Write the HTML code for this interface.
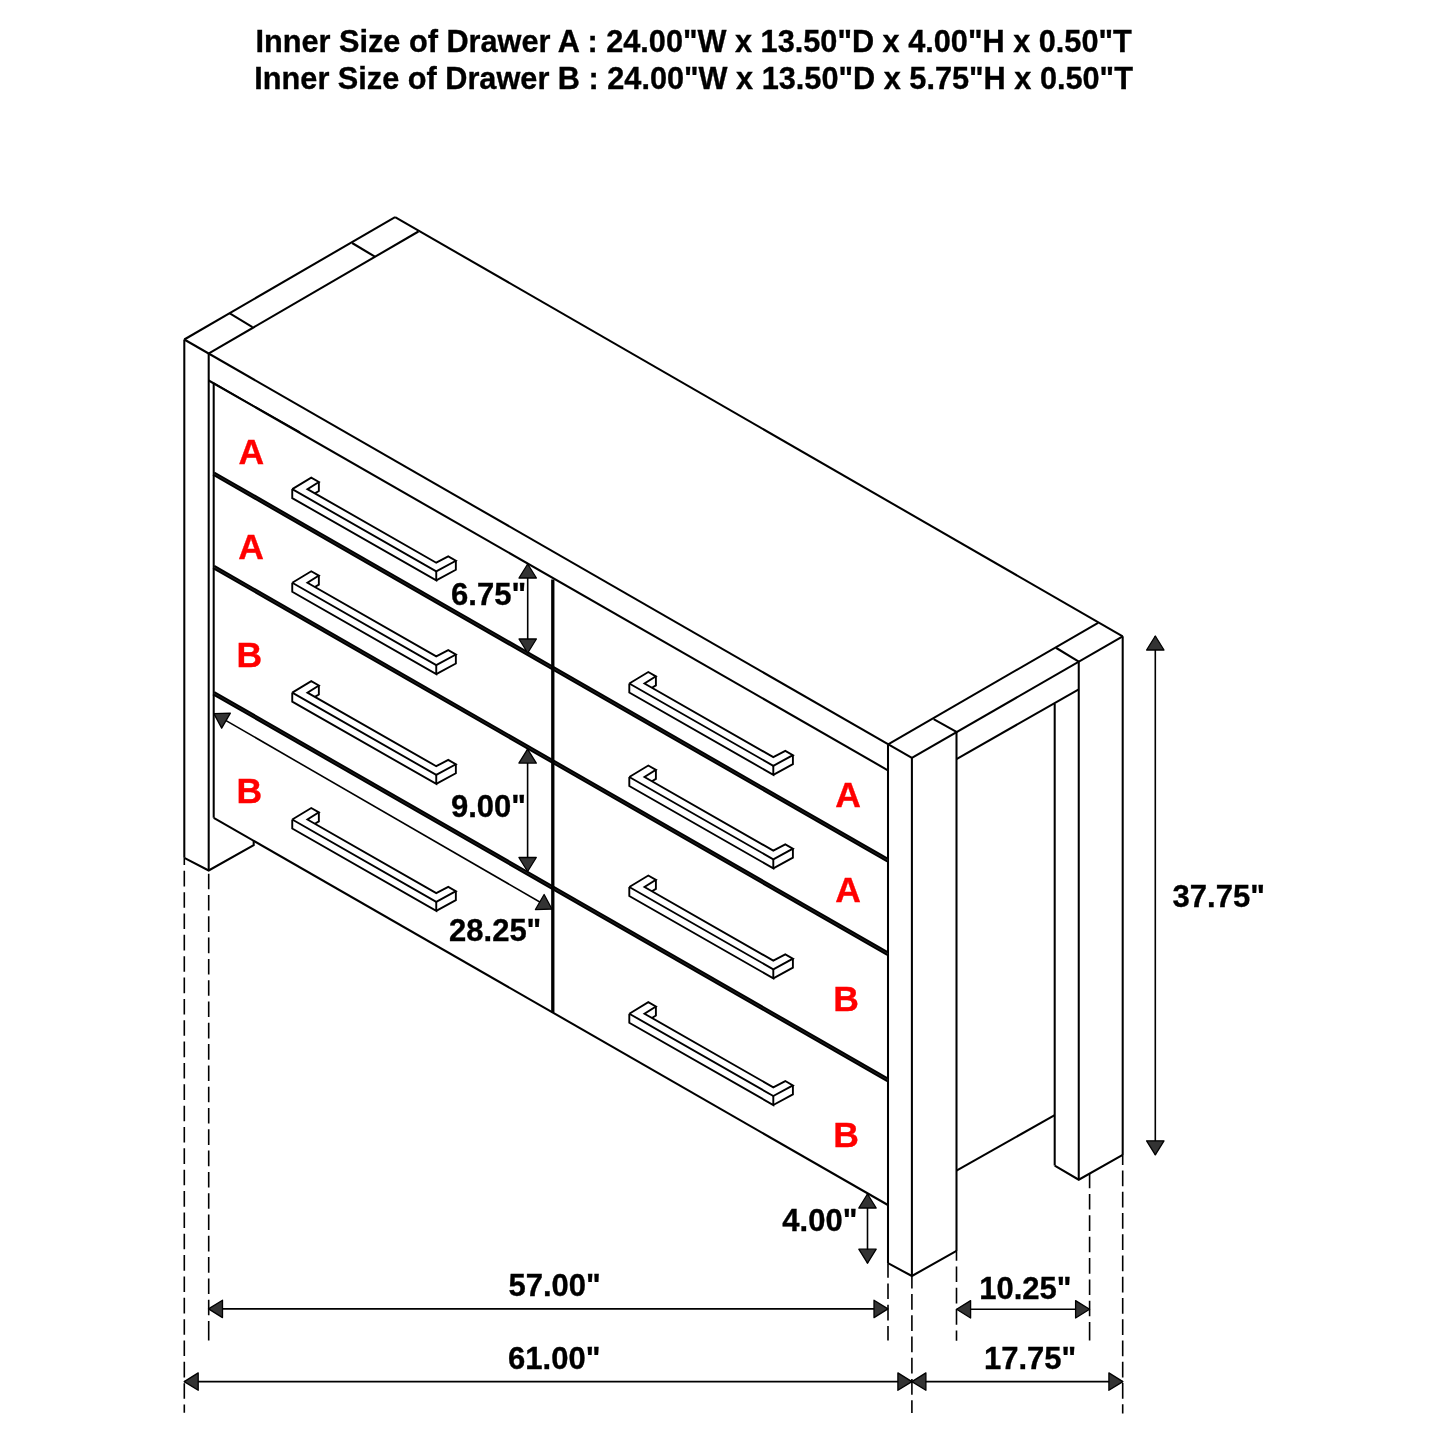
<!DOCTYPE html>
<html><head><meta charset="utf-8"><title>Dresser Dimensions</title>
<style>
html,body{margin:0;padding:0;background:#fff;}
body{width:1445px;height:1445px;overflow:hidden;}
svg{display:block;will-change:transform;}
text{font-family:"Liberation Sans", sans-serif;font-weight:bold;stroke-width:0.35px;}
</style></head>
<body>
<svg width="1445" height="1445" viewBox="0 0 1445 1445">
<rect width="1445" height="1445" fill="#fff"/>
<g stroke="#000" stroke-linecap="butt" fill="none">
<line x1="184.3" y1="339.5" x2="911.9" y2="757.9" stroke-width="2.05"/>
<line x1="184.3" y1="339.5" x2="395.1" y2="217.1" stroke-width="2.05"/>
<line x1="208.9" y1="353.4" x2="418.45" y2="231.5" stroke-width="2.05"/>
<line x1="229.8" y1="313.4" x2="252.5" y2="327.1" stroke-width="2.05"/>
<line x1="352.1" y1="243" x2="374.9" y2="256.7" stroke-width="2.05"/>
<line x1="395.1" y1="217.1" x2="1122.7" y2="636.3" stroke-width="2.05"/>
<line x1="888.1" y1="744.4" x2="1098.1" y2="622.8" stroke-width="2.05"/>
<line x1="911.9" y1="757.9" x2="1122.7" y2="636.3" stroke-width="2.05"/>
<line x1="933.6" y1="719.2" x2="956.5" y2="731.8" stroke-width="2.05"/>
<line x1="1055.9" y1="647.75" x2="1078.75" y2="661.6" stroke-width="2.05"/>
<line x1="184.3" y1="339.5" x2="184.3" y2="857.8" stroke-width="2.05"/>
<line x1="208.7" y1="353.4" x2="208.7" y2="870.5" stroke-width="2.05"/>
<path d="M184.3 857.8 L208.7 870.5 L253.7 845.2 L253.7 840.5" stroke-width="2.05" fill="none"/>
<line x1="888" y1="744.4" x2="888" y2="1263.2" stroke-width="2.05"/>
<line x1="911.9" y1="757.9" x2="911.9" y2="1276" stroke-width="2.05"/>
<line x1="956.5" y1="731.8" x2="956.5" y2="1250.9" stroke-width="2.05"/>
<path d="M888 1263.2 L911.9 1276 L956.5 1250.9" stroke-width="2.05" fill="none"/>
<line x1="956.5" y1="759.2" x2="1078.75" y2="689.3" stroke-width="2.05"/>
<line x1="956.5" y1="1170.6" x2="1054.7" y2="1115.2" stroke-width="2.05"/>
<line x1="1054.7" y1="703.8" x2="1054.7" y2="1165.6" stroke-width="2.05"/>
<line x1="1078.75" y1="661.6" x2="1078.75" y2="1179.7" stroke-width="2.05"/>
<line x1="1122.7" y1="636.3" x2="1122.7" y2="1154.9" stroke-width="2.05"/>
<path d="M1054.7 1165.6 L1078.75 1179.7 L1122.7 1154.9" stroke-width="2.05" fill="none"/>
<line x1="208.7" y1="380.5" x2="887.9" y2="770.3" stroke-width="2.05"/>
<line x1="213.7" y1="383.3" x2="300" y2="432.3" stroke-width="1.6"/>
<line x1="213.7" y1="383.4" x2="213.7" y2="817.8" stroke-width="2.05"/>
<line x1="213.7" y1="473.6" x2="887.9" y2="860.3" stroke-width="4.5"/>
<line x1="213.7" y1="473.6" x2="887.9" y2="860.3" stroke-width="0.6" stroke="#3a3a3a"/>
<line x1="213.7" y1="567" x2="887.9" y2="953.8" stroke-width="4.5"/>
<line x1="213.7" y1="567" x2="887.9" y2="953.8" stroke-width="0.6" stroke="#3a3a3a"/>
<line x1="213.7" y1="693.2" x2="887.9" y2="1080" stroke-width="4.5"/>
<line x1="213.7" y1="693.2" x2="887.9" y2="1080" stroke-width="0.6" stroke="#3a3a3a"/>
<line x1="213.7" y1="817.8" x2="887.9" y2="1205" stroke-width="2.05"/>
<line x1="552.8" y1="579.5" x2="552.8" y2="1012.6" stroke-width="3.3"/>
<path d="M292.25 489.1 L311.25 477.6 L318.85 481.95 L307.45 489.1 L436.25 562.7 L448.25 556.45 L455.85 560.8 L436.25 571.4 L292.25 489.1" stroke-width="1.9" fill="none"/>
<path d="M292.25 489.1 L292.25 498.1 L436.25 580.4 L436.25 571.4" stroke-width="1.9" fill="none"/>
<path d="M436.25 580.4 L455.85 569.8 L455.85 560.8" stroke-width="1.9" fill="none"/>
<path d="M318.85 481.95 L318.85 490.95 L314.89 493.35" stroke-width="1.9" fill="none"/>
<path d="M292.25 582.8 L311.25 571.3 L318.85 575.65 L307.45 582.8 L436.25 656.4 L448.25 650.15 L455.85 654.5 L436.25 665.1 L292.25 582.8" stroke-width="1.9" fill="none"/>
<path d="M292.25 582.8 L292.25 591.8 L436.25 674.1 L436.25 665.1" stroke-width="1.9" fill="none"/>
<path d="M436.25 674.1 L455.85 663.5 L455.85 654.5" stroke-width="1.9" fill="none"/>
<path d="M318.85 575.65 L318.85 584.65 L314.89 587.05" stroke-width="1.9" fill="none"/>
<path d="M292.25 692.6 L311.25 681.1 L318.85 685.45 L307.45 692.6 L436.25 766.2 L448.25 759.95 L455.85 764.3 L436.25 774.9 L292.25 692.6" stroke-width="1.9" fill="none"/>
<path d="M292.25 692.6 L292.25 701.6 L436.25 783.9 L436.25 774.9" stroke-width="1.9" fill="none"/>
<path d="M436.25 783.9 L455.85 773.3 L455.85 764.3" stroke-width="1.9" fill="none"/>
<path d="M318.85 685.45 L318.85 694.45 L314.89 696.85" stroke-width="1.9" fill="none"/>
<path d="M292.25 819.5 L311.25 808 L318.85 812.35 L307.45 819.5 L436.25 893.1 L448.25 886.85 L455.85 891.2 L436.25 901.8 L292.25 819.5" stroke-width="1.9" fill="none"/>
<path d="M292.25 819.5 L292.25 828.5 L436.25 910.8 L436.25 901.8" stroke-width="1.9" fill="none"/>
<path d="M436.25 910.8 L455.85 900.2 L455.85 891.2" stroke-width="1.9" fill="none"/>
<path d="M318.85 812.35 L318.85 821.35 L314.89 823.75" stroke-width="1.9" fill="none"/>
<path d="M629.3 683.5 L648.3 672 L655.9 676.35 L644.5 683.5 L773.3 757.1 L785.3 750.85 L792.9 755.2 L773.3 765.8 L629.3 683.5" stroke-width="1.9" fill="none"/>
<path d="M629.3 683.5 L629.3 692.5 L773.3 774.8 L773.3 765.8" stroke-width="1.9" fill="none"/>
<path d="M773.3 774.8 L792.9 764.2 L792.9 755.2" stroke-width="1.9" fill="none"/>
<path d="M655.9 676.35 L655.9 685.35 L651.94 687.75" stroke-width="1.9" fill="none"/>
<path d="M629.3 777 L648.3 765.5 L655.9 769.85 L644.5 777 L773.3 850.6 L785.3 844.35 L792.9 848.7 L773.3 859.3 L629.3 777" stroke-width="1.9" fill="none"/>
<path d="M629.3 777 L629.3 786 L773.3 868.3 L773.3 859.3" stroke-width="1.9" fill="none"/>
<path d="M773.3 868.3 L792.9 857.7 L792.9 848.7" stroke-width="1.9" fill="none"/>
<path d="M655.9 769.85 L655.9 778.85 L651.94 781.25" stroke-width="1.9" fill="none"/>
<path d="M629.3 887 L648.3 875.5 L655.9 879.85 L644.5 887 L773.3 960.6 L785.3 954.35 L792.9 958.7 L773.3 969.3 L629.3 887" stroke-width="1.9" fill="none"/>
<path d="M629.3 887 L629.3 896 L773.3 978.3 L773.3 969.3" stroke-width="1.9" fill="none"/>
<path d="M773.3 978.3 L792.9 967.7 L792.9 958.7" stroke-width="1.9" fill="none"/>
<path d="M655.9 879.85 L655.9 888.85 L651.94 891.25" stroke-width="1.9" fill="none"/>
<path d="M629.3 1013.7 L648.3 1002.2 L655.9 1006.55 L644.5 1013.7 L773.3 1087.3 L785.3 1081.05 L792.9 1085.4 L773.3 1096 L629.3 1013.7" stroke-width="1.9" fill="none"/>
<path d="M629.3 1013.7 L629.3 1022.7 L773.3 1105 L773.3 1096" stroke-width="1.9" fill="none"/>
<path d="M773.3 1105 L792.9 1094.4 L792.9 1085.4" stroke-width="1.9" fill="none"/>
<path d="M655.9 1006.55 L655.9 1015.55 L651.94 1017.95" stroke-width="1.9" fill="none"/>
<line x1="527.7" y1="564" x2="527.7" y2="653" stroke-width="1.6"/>
<path d="M527.7 564 L536.4 578 L519 578 Z" fill="#333333" stroke="#000" stroke-width="1.3" stroke-linejoin="round"/>
<path d="M527.7 653 L519 639 L536.4 639 Z" fill="#333333" stroke="#000" stroke-width="1.3" stroke-linejoin="round"/>
<line x1="527.6" y1="749.1" x2="527.6" y2="871.5" stroke-width="1.6"/>
<path d="M527.6 749.1 L536.3 763.1 L518.9 763.1 Z" fill="#333333" stroke="#000" stroke-width="1.3" stroke-linejoin="round"/>
<path d="M527.6 871.5 L518.9 857.5 L536.3 857.5 Z" fill="#333333" stroke="#000" stroke-width="1.3" stroke-linejoin="round"/>
<line x1="213.9" y1="713.6" x2="551.9" y2="909" stroke-width="1.6"/>
<path d="M213.9 713.6 L230.37 713.07 L221.67 728.14 Z" fill="#333333" stroke="#000" stroke-width="1.3" stroke-linejoin="round"/>
<path d="M551.9 909 L535.43 909.53 L544.13 894.46 Z" fill="#333333" stroke="#000" stroke-width="1.3" stroke-linejoin="round"/>
<line x1="1155.3" y1="636" x2="1155.3" y2="1154.85" stroke-width="1.6"/>
<path d="M1155.3 636 L1164 650 L1146.6 650 Z" fill="#333333" stroke="#000" stroke-width="1.3" stroke-linejoin="round"/>
<path d="M1155.3 1154.85 L1146.6 1140.85 L1164 1140.85 Z" fill="#333333" stroke="#000" stroke-width="1.3" stroke-linejoin="round"/>
<line x1="867.5" y1="1194" x2="867.5" y2="1263.2" stroke-width="1.6"/>
<path d="M867.5 1194 L876.2 1208 L858.8 1208 Z" fill="#333333" stroke="#000" stroke-width="1.3" stroke-linejoin="round"/>
<path d="M867.5 1263.2 L858.8 1249.2 L876.2 1249.2 Z" fill="#333333" stroke="#000" stroke-width="1.3" stroke-linejoin="round"/>
<line x1="208.5" y1="1308.9" x2="888" y2="1308.9" stroke-width="1.6"/>
<path d="M208.5 1308.9 L222.5 1300.2 L222.5 1317.6 Z" fill="#333333" stroke="#000" stroke-width="1.3" stroke-linejoin="round"/>
<path d="M888 1308.9 L874 1317.6 L874 1300.2 Z" fill="#333333" stroke="#000" stroke-width="1.3" stroke-linejoin="round"/>
<line x1="184.2" y1="1381.6" x2="911.9" y2="1381.6" stroke-width="1.6"/>
<path d="M184.2 1381.6 L198.2 1372.9 L198.2 1390.3 Z" fill="#333333" stroke="#000" stroke-width="1.3" stroke-linejoin="round"/>
<path d="M911.9 1381.6 L897.9 1390.3 L897.9 1372.9 Z" fill="#333333" stroke="#000" stroke-width="1.3" stroke-linejoin="round"/>
<line x1="956.6" y1="1309.3" x2="1089.6" y2="1309.3" stroke-width="1.6"/>
<path d="M956.6 1309.3 L970.6 1300.6 L970.6 1318 Z" fill="#333333" stroke="#000" stroke-width="1.3" stroke-linejoin="round"/>
<path d="M1089.6 1309.3 L1075.6 1318 L1075.6 1300.6 Z" fill="#333333" stroke="#000" stroke-width="1.3" stroke-linejoin="round"/>
<line x1="911.9" y1="1381.6" x2="1122.9" y2="1381.6" stroke-width="1.6"/>
<path d="M911.9 1381.6 L925.9 1372.9 L925.9 1390.3 Z" fill="#333333" stroke="#000" stroke-width="1.3" stroke-linejoin="round"/>
<path d="M1122.9 1381.6 L1108.9 1390.3 L1108.9 1372.9 Z" fill="#333333" stroke="#000" stroke-width="1.3" stroke-linejoin="round"/>
<path d="M184.3 857.8 V865.05 M184.3 870.8 V886.4 M184.3 892.15 V907.75 M184.3 913.5 V929.1 M184.3 934.85 V950.45 M184.3 956.2 V971.8 M184.3 977.55 V993.15 M184.3 998.9 V1014.5 M184.3 1020.25 V1035.85 M184.3 1041.6 V1057.2 M184.3 1062.95 V1078.55 M184.3 1084.3 V1099.9 M184.3 1105.65 V1121.25 M184.3 1127 V1142.6 M184.3 1148.35 V1163.95 M184.3 1169.7 V1185.3 M184.3 1191.05 V1206.65 M184.3 1212.4 V1228 M184.3 1233.75 V1249.35 M184.3 1255.1 V1270.7 M184.3 1276.45 V1292.05 M184.3 1297.8 V1313.4 M184.3 1319.15 V1334.75 M184.3 1340.5 V1356.1 M184.3 1361.85 V1377.45 M184.3 1383.2 V1398.8 M184.3 1404.55 V1412.8" stroke-width="1.6"/>
<path d="M208.7 873.7 V889.3 M208.7 895 V910.6 M208.7 916.3 V931.9 M208.7 937.6 V953.2 M208.7 958.9 V974.5 M208.7 980.2 V995.8 M208.7 1001.5 V1017.1 M208.7 1022.8 V1038.4 M208.7 1044.1 V1059.7 M208.7 1065.4 V1081 M208.7 1086.7 V1102.3 M208.7 1108 V1123.6 M208.7 1129.3 V1144.9 M208.7 1150.6 V1166.2 M208.7 1171.9 V1187.5 M208.7 1193.2 V1208.8 M208.7 1214.5 V1230.1 M208.7 1235.8 V1251.4 M208.7 1257.1 V1272.7 M208.7 1278.4 V1294 M208.7 1299.7 V1315.3 M208.7 1321 V1340.6" stroke-width="1.6"/>
<path d="M888 1263.2 V1277.8 M888 1283.5 V1299.1 M888 1304.8 V1320.4 M888 1326.1 V1340.6" stroke-width="1.6"/>
<path d="M911.9 1276 V1288.45 M911.9 1294.1 V1309.7 M911.9 1315.35 V1330.95 M911.9 1336.6 V1352.2 M911.9 1357.85 V1373.45 M911.9 1379.1 V1394.7 M911.9 1400.35 V1413.1" stroke-width="1.6"/>
<path d="M956.5 1250.9 V1260.8 M956.5 1266.5 V1282.1 M956.5 1287.8 V1303.4 M956.5 1309.1 V1324.7 M956.5 1330.4 V1340.7" stroke-width="1.6"/>
<path d="M1089.6 1173.6 V1188.25 M1089.6 1194 V1209.6 M1089.6 1215.35 V1230.95 M1089.6 1236.7 V1252.3 M1089.6 1258.05 V1273.65 M1089.6 1279.4 V1295 M1089.6 1300.75 V1316.35 M1089.6 1322.1 V1340.6" stroke-width="1.6"/>
<path d="M1122.7 1154.9 V1164.95 M1122.7 1170.6 V1186.2 M1122.7 1191.85 V1207.45 M1122.7 1213.1 V1228.7 M1122.7 1234.35 V1249.95 M1122.7 1255.6 V1271.2 M1122.7 1276.85 V1292.45 M1122.7 1298.1 V1313.7 M1122.7 1319.35 V1334.95 M1122.7 1340.6 V1356.2 M1122.7 1361.85 V1377.45 M1122.7 1383.1 V1398.7 M1122.7 1404.35 V1413.4" stroke-width="1.6"/>
</g>
<g>
<text x="255.46" y="52" font-size="30.7" fill="#000" stroke="#000">Inner Size of Drawer A : 24.00&quot;W x 13.50&quot;D x 4.00&quot;H x 0.50&quot;T</text>
<text x="254.31" y="89" font-size="30.7" fill="#000" stroke="#000">Inner Size of Drawer B : 24.00&quot;W x 13.50&quot;D x 5.75&quot;H x 0.50&quot;T</text>
<text x="451.1" y="605.3" font-size="31" fill="#000" stroke="#000">6.75&quot;</text>
<text x="450.9" y="817.4" font-size="31" fill="#000" stroke="#000">9.00&quot;</text>
<text x="449.06" y="941.2" font-size="31" fill="#000" stroke="#000">28.25&quot;</text>
<text x="1172.6" y="907" font-size="31" fill="#000" stroke="#000">37.75&quot;</text>
<text x="782.36" y="1230.9" font-size="31" fill="#000" stroke="#000">4.00&quot;</text>
<text x="508.53" y="1296.1" font-size="31" fill="#000" stroke="#000">57.00&quot;</text>
<text x="508.12" y="1369.3" font-size="31" fill="#000" stroke="#000">61.00&quot;</text>
<text x="979.17" y="1299.4" font-size="31" fill="#000" stroke="#000">10.25&quot;</text>
<text x="984.01" y="1369.2" font-size="31" fill="#000" stroke="#000">17.75&quot;</text>
<text x="238.45" y="463.75" font-size="35.5" fill="#ff0000" stroke="#ff0000">A</text>
<text x="238.35" y="558.75" font-size="35.5" fill="#ff0000" stroke="#ff0000">A</text>
<text x="236.49" y="666.8" font-size="35.5" fill="#ff0000" stroke="#ff0000">B</text>
<text x="236.39" y="803" font-size="35.5" fill="#ff0000" stroke="#ff0000">B</text>
<text x="835.22" y="807.06" font-size="35.5" fill="#ff0000" stroke="#ff0000">A</text>
<text x="835.27" y="902.36" font-size="35.5" fill="#ff0000" stroke="#ff0000">A</text>
<text x="833.14" y="1010.8" font-size="35.5" fill="#ff0000" stroke="#ff0000">B</text>
<text x="833.14" y="1147.4" font-size="35.5" fill="#ff0000" stroke="#ff0000">B</text>
</g>
</svg>
</body></html>
